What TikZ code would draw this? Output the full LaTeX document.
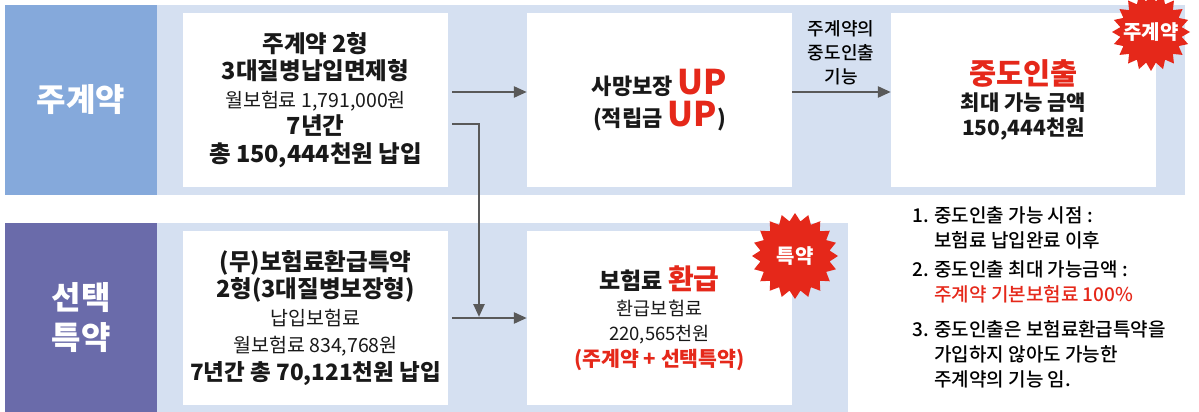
\documentclass[tikz,border=0pt]{standalone}
\usepackage{fontspec}
\setmainfont{Noto Sans CJK KR}[BoldFont={Noto Sans CJK KR Black}]
\newfontfamily\medfont{Noto Sans CJK KR Medium}
\usetikzlibrary{arrows.meta,shapes.symbols}
\definecolor{bandc}{HTML}{D5E0F1}
\definecolor{jucol}{HTML}{85A9DB}
\definecolor{tkcol}{HTML}{6A6BAA}
\definecolor{redc}{HTML}{E5281A}
\definecolor{arrc}{HTML}{595959}
\newcommand{\fs}[2]{\fontsize{#1}{#2}\selectfont}

\begin{document}
\begin{tikzpicture}[x=1pt,y=-1pt,
  side/.style={minimum width=152pt,minimum height=190pt,inner sep=0pt,text=white,align=center,font=\bfseries\fs{32}{40}},
  wbox/.style={fill=white,minimum width=265pt,minimum height=174pt,inner sep=0pt,align=center,text=black!90},
  arr/.style={draw=arrc,line width=2.5pt,-{Triangle[length=13pt,width=11pt]}},
  burst/.style={starburst,starburst points=20,starburst point height=8pt,random starburst=0,fill=redc,inner sep=0pt},
  bursttext/.style={text=white,inner sep=0pt,font=\bfseries\fs{20}{20}},
  note/.style={anchor=west,align=left,inner sep=0pt,font=\medfont\fs{19}{25}}]
\useasboundingbox (0,0) rectangle (1199,412);
\fill[bandc] (5,5) rectangle (1185,195);
\fill[bandc] (5,223) rectangle (848,412);
\node[side,fill=jucol] (jukye) at (81,100) {주계약};
\node[side,fill=tkcol] (seontaek) at (81,318) {선택\\특약};
\node[wbox,font=\bfseries\fs{23.5}{27.5}] (jubox) at (315.5,100) {주계약 2형\\3대질병납입면제형\\{\mdseries\fs{19.5}{27.5}월보험료 1,791,000원}\\7년간\\총 150,444천원 납입};
\node[wbox,font=\bfseries\fs{22}{32}] (samang) at (659.5,100) {사망보장 {\color{redc}\fs{34}{32}UP}\\(적립금 {\color{redc}\fs{34}{32}UP})};
\node[wbox,font=\bfseries\fs{21}{25.5}] (jungdo) at (1023.5,100) {{\color{redc}\fs{29.5}{32}중도인출}\\최대 가능 금액\\150,444천원};
\node[wbox,font=\bfseries\fs{23.5}{27.5}] (teukbox) at (315.5,318) {(무)보험료환급특약\\2형(3대질병보장형)\\{\mdseries\fs{19.5}{27.5}납입보험료}\\{\mdseries\fs{19.5}{27.5}월보험료 834,768원}\\{\fs{22.5}{27.5}7년간 총 70,121천원 납입}};
\node[wbox,font=\fs{18.5}{25.5}] (hwangeup) at (659.5,318) {{\bfseries\fs{23}{30}보험료 {\color{redc}\fs{28}{30}환급}}\\환급보험료\\220,565천원\\{\bfseries\color{redc}\fs{20.5}{25.5}(주계약 + 선택특약)}};
\node[burst,minimum size=78pt,label={[bursttext]center:주계약}] (bju) at (1151,32) {};
\node[burst,minimum size=86pt,label={[bursttext]center:특약}] (btk) at (795,256) {};
\node[align=center,inner sep=0pt,font=\medfont\fs{18}{24}] (gineung) at (841,53) {주계약의\\중도인출\\기능};
\coordinate (hap) at (479,317);
\draw[arr] ([xshift=4pt,yshift=8pt]jubox.east) -- ([yshift=8pt]samang.west);
\draw[arr] ([xshift=4pt,yshift=-24pt]jubox.east) -| (hap);
\draw[arr] ([xshift=4pt]teukbox.east) -- (hwangeup.west);
\draw[arr] ([yshift=8pt]samang.east) -- ([yshift=8pt]jungdo.west);
\node[note] (n1) at (912,227.5) {1. 중도인출 가능 시점 :\\\phantom{1. }보험료 납입완료 이후};
\node[note] (n2) at (912,282) {2. 중도인출 최대 가능금액 :\\\phantom{2. }{\color{redc}주계약 기본보험료 100\%}};
\node[note] (n3) at (912,354) {3. 중도인출은 보험료환급특약을\\\phantom{3. }가입하지 않아도 가능한\\\phantom{3. }주계약의 기능 임.};
\end{tikzpicture}
\end{document}
